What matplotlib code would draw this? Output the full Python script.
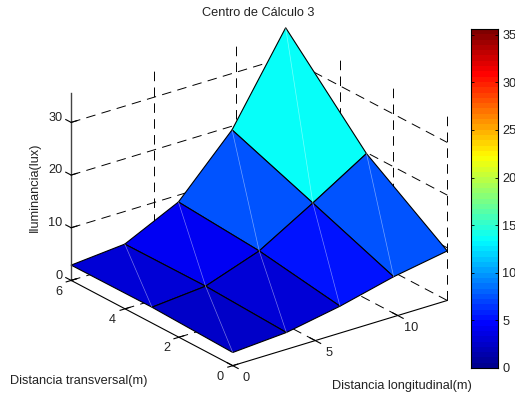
#!/usr/bin/env python3
import numpy as np
from matplotlib import pyplot as plt
from matplotlib.colors import Normalize, LinearSegmentedColormap

plt.rcParams['font.family'] = ['Liberation Sans', 'DejaVu Sans']

x_vals = [0, 3.25, 6.5, 9.75, 13]
y_vals = [0, 3, 6]
lux_y0 = [2.5, 3.2, 5.1, 7.6, 9.4]
lux_y3 = [3.0, 3.9, 7.5, 13.5, 19.8]
lux_y6 = [2.9, 3.8, 8.7, 19.3, 35.6]
x_ticks = [0, 5, 10]
y_ticks = [0, 2, 4, 6]
z_ticks = [0, 10, 20, 30]
cbar_ticks = [0, 5, 10, 15, 20, 25, 30, 35]
x_max = 13
y_max = 6
z_max = 35.6

W, H = 515, 398
FS = 9.2
TXT = '#222222'
DASH = (0, (9.8, 6.5))

# same nodes as the jet of the program that made the original
jet64 = LinearSegmentedColormap.from_list('jet64', [
	(0, (0, 0, 0.5625)), (0.125, (0, 0, 1)), (0.375, (0, 1, 1)),
	(0.625, (1, 1, 0)), (0.875, (1, 0, 0)), (1, (0.5, 0, 0))], N=64)


def dashed(ax, xs, ys, zs):
	ax.plot(xs, ys, zs, color='k', lw=0.7, linestyle=DASH, zorder=1, clip_on=False)


def solid(ax, xs, ys, zs, color='k', lw=0.8):
	ax.plot(xs, ys, zs, color=color, lw=lw, zorder=3, clip_on=False)


def main():
	fig = plt.figure(figsize=(W / 100, H / 100), dpi=100)

	# the 3d axes is placed by pixels so the box lands where it should
	size = 334
	cx, cy = 254.7, 201.2
	ax = fig.add_axes([(cx - size / 2) / W, 1 - (cy + size / 2) / H, size / W, size / H],
		projection='3d', proj_type='ortho', computed_zorder=False)
	ax.set_xlim(0, x_max)
	ax.set_ylim(0, y_max)
	ax.set_zlim(0, z_max)
	ax.set_box_aspect((268.5, 266.5, 204), zoom=1.253)
	ax.view_init(elev=23.6, azim=-127.2)
	ax.set_xticks([])
	ax.set_yticks([])
	ax.set_zticks([])
	ax.set_axis_off()
	ax.patch.set_alpha(0)

	# grid on the floor and the two back walls
	for x in x_ticks[1:] + [x_max]:
		dashed(ax, [x, x], [0, y_max], [0, 0])
		if x != x_max:
			dashed(ax, [x, x], [y_max, y_max], [0, z_max])
	for y in y_ticks[1:]:
		dashed(ax, [0, x_max], [y, y], [0, 0])
	for y in y_ticks[:-1]:
		dashed(ax, [x_max, x_max], [y, y], [0, z_max])
	for z in z_ticks[1:]:
		dashed(ax, [0, x_max], [y_max, y_max], [z, z])
		dashed(ax, [x_max, x_max], [y_max, 0], [z, z])

	# surface, each face coloured from its first corner
	X, Y = np.meshgrid(x_vals, y_vals)
	Z = np.array([lux_y0, lux_y3, lux_y6])
	norm = Normalize(0, z_max)
	surf = ax.plot_surface(X, Y, Z, rstride=1, cstride=1, facecolors=jet64(norm(Z)),
		edgecolor='k', linewidth=0.8, shade=False, antialiased=True, zorder=2)
	surf.set_clip_on(False)

	# pale seam across every face
	for j in range(len(y_vals) - 1):
		for i in range(len(x_vals) - 1):
			ax.plot([x_vals[i], x_vals[i + 1]], [y_vals[j], y_vals[j + 1]],
				[Z[j, i], Z[j + 1, i + 1]], color='w', lw=0.5, alpha=0.45, zorder=3, clip_on=False)

	# axis lines and ticks
	solid(ax, [0, x_max], [0, 0], [0, 0])
	solid(ax, [0, 0], [0, y_max], [0, 0])
	solid(ax, [0, 0], [y_max, y_max], [0, z_max], color='#444444', lw=1.0)
	for x in x_ticks:
		solid(ax, [x, x], [-0.2, 0.2], [0, 0])
		ax.text(x, -0.5, -1, str(x), fontsize=FS, ha='center', va='center', color=TXT)
	for y in y_ticks:
		solid(ax, [-0.3, 0.3], [y, y], [0, 0])
		ax.text(-0.75, y, -1.4, str(y), fontsize=FS, ha='center', va='center', color=TXT)
	for z in z_ticks:
		solid(ax, [0, 0], [y_max, y_max + 0.2], [z, z])
		solid(ax, [0, 0.35], [y_max, y_max], [z, z])
		ax.text(0, y_max + 0.33, z, str(z), fontsize=FS, ha='right', va='center', color=TXT)

	fig.text(258.5 / W, 1 - 13 / H, 'Centro de Cálculo 3', fontsize=FS, ha='center', va='center', color=TXT)
	fig.text(35 / W, 1 - 187 / H, 'Iluminancia(lux)', fontsize=FS, rotation=90, ha='center', va='center', color=TXT)
	fig.text(78.5 / W, 1 - 381 / H, 'Distancia transversal(m)', fontsize=FS, ha='center', va='center', color=TXT)
	fig.text(402 / W, 1 - 386 / H, 'Distancia longitudinal(m)', fontsize=FS, ha='center', va='center', color=TXT)

	# colorbar
	cax = fig.add_axes([471 / W, 1 - 368 / H, 27 / W, 339 / H])
	levels = (np.arange(64) + 0.5) / 64
	cax.imshow(levels.reshape(-1, 1), cmap=jet64, aspect='auto', origin='lower',
		extent=[0, 1, 0, z_max], interpolation='nearest', vmin=0, vmax=1)
	cax.set_xticks([])
	cax.set_yticks(cbar_ticks)
	cax.yaxis.tick_right()
	cax.tick_params(axis='y', which='major', direction='in', length=2, width=0.6,
		left=True, right=True, labelsize=FS, labelcolor=TXT, pad=3)
	for spine in cax.spines.values():
		spine.set_linewidth(0.8)

	fig.savefig('out.png', dpi=100)
	plt.close()


if __name__ == '__main__':
	main()
